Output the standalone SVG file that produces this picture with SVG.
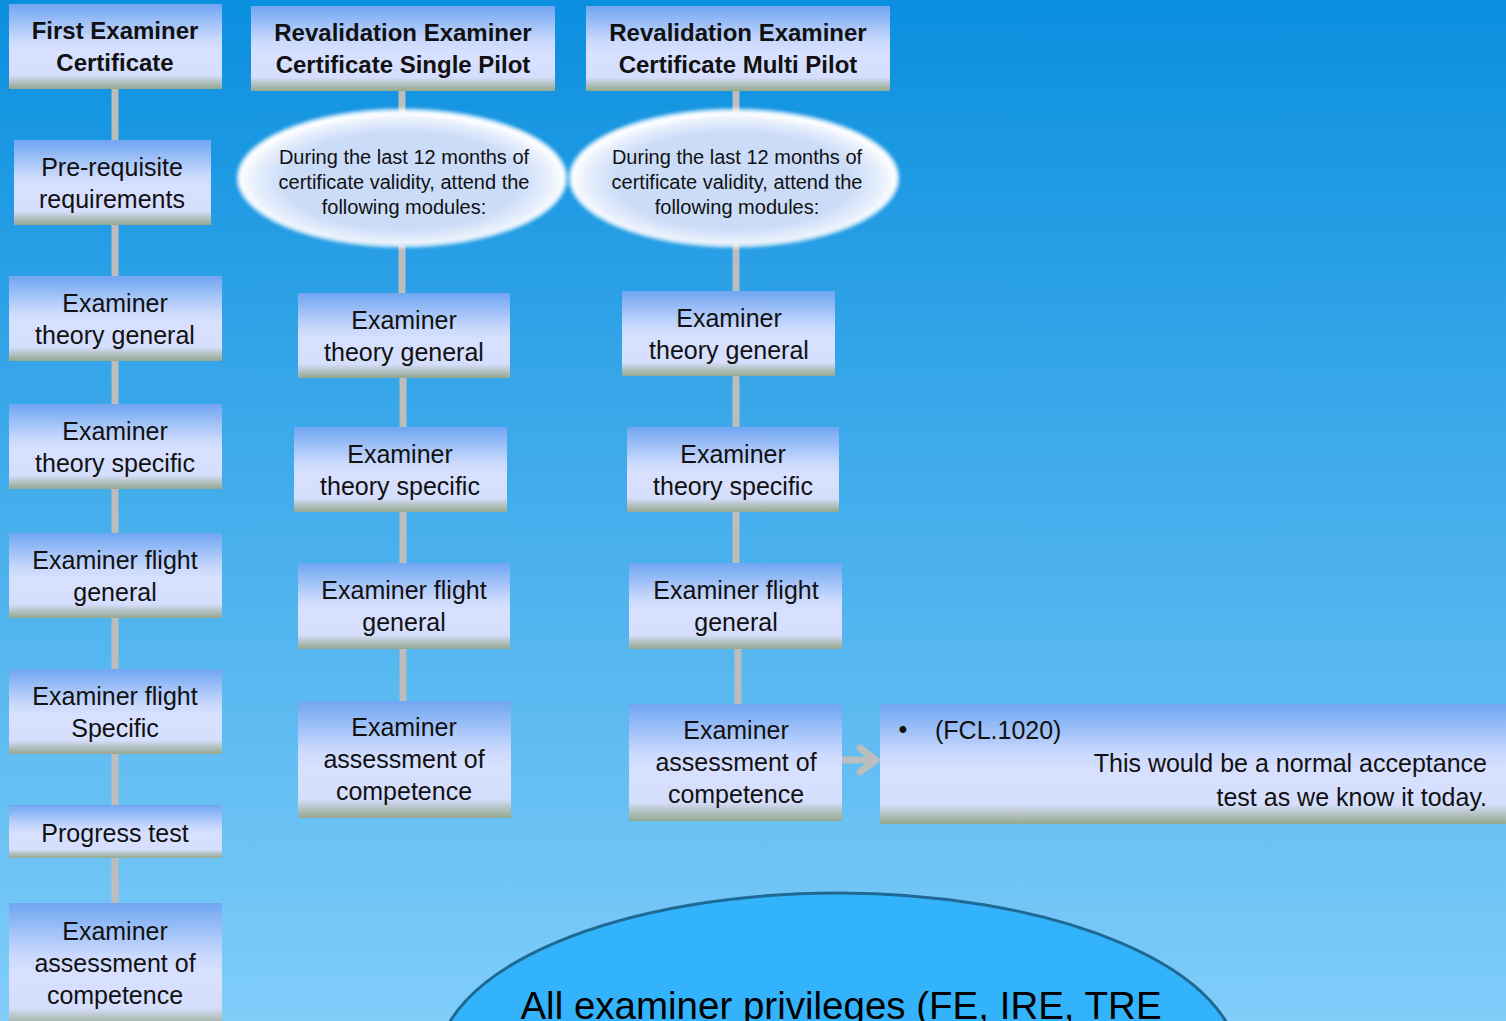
<svg xmlns="http://www.w3.org/2000/svg" width="1506" height="1021" viewBox="0 0 1506 1021">
<defs>
  <linearGradient id="bg" x1="0" y1="0" x2="0" y2="1">
    <stop offset="0" stop-color="#0a8fdf"/>
    <stop offset="1" stop-color="#80cdf9"/>
  </linearGradient>
  <linearGradient id="box" x1="0" y1="0" x2="0" y2="1">
    <stop offset="0" stop-color="#70a6f2"/>
    <stop offset="0.42" stop-color="#cad9fd"/>
    <stop offset="0.55" stop-color="#d7e0ff"/>
    <stop offset="0.84" stop-color="#d5defc"/>
    <stop offset="0.9" stop-color="#bcc8cf"/>
    <stop offset="1" stop-color="#95a78f"/>
  </linearGradient>
  <radialGradient id="ell" cx="0.5" cy="0.52" r="0.5">
    <stop offset="0" stop-color="#c9dbf8"/>
    <stop offset="0.72" stop-color="#cbdcf8"/>
    <stop offset="0.9" stop-color="#e6eefc"/>
    <stop offset="1" stop-color="#ffffff"/>
  </radialGradient>
  <filter id="soft" x="-10%" y="-20%" width="120%" height="140%">
    <feGaussianBlur stdDeviation="1.6"/>
  </filter>
  <style>
    .bx { fill: url(#box); }
    .t { font-family: "Liberation Sans", Arial, sans-serif; font-size: 25px; fill: #111; text-anchor: middle; }
    .h { font-family: "Liberation Sans", Arial, sans-serif; font-size: 24px; font-weight: bold; fill: #111; text-anchor: middle; }
    .e { font-family: "Liberation Sans", Arial, sans-serif; font-size: 20px; fill: #111; text-anchor: middle; }
    .conn { stroke: #bdbdbd; stroke-width: 7; fill: none; }
  </style>
</defs>
<rect x="0" y="0" width="1506" height="1021" fill="url(#bg)"/>

<g id="connectors">
  <line class="conn" x1="115" y1="88" x2="115" y2="905"/>
  <line class="conn" x1="402" y1="91" x2="402" y2="112"/>
  <line class="conn" x1="402" y1="245" x2="402" y2="295"/>
  <line class="conn" x1="403" y1="377" x2="403" y2="703"/>
  <line class="conn" x1="736" y1="91" x2="736" y2="112"/>
  <line class="conn" x1="736" y1="245" x2="736" y2="293"/>
  <line class="conn" x1="736" y1="375" x2="736" y2="429"/>
  <line class="conn" x1="736" y1="511" x2="736" y2="565"/>
  <line class="conn" x1="738" y1="648" x2="738" y2="706"/>
  <path d="M843 760 H876 M860 748 L876 760 L860 772" stroke="#bdbdbd" stroke-width="7" fill="none" stroke-linecap="round" stroke-linejoin="round"/>
</g>

<!-- Column 1 -->
<g id="first-examiner">
  <rect class="bx" x="9" y="4" width="213" height="85"/>
  <text class="h" x="115" y="39">First Examiner</text>
  <text class="h" x="115" y="71">Certificate</text>
</g>
<g id="pre-requisite">
  <rect class="bx" x="14" y="140" width="197" height="85"/>
  <text class="t" x="112" y="176">Pre-requisite</text>
  <text class="t" x="112" y="208">requirements</text>
</g>
<g id="c1-theory-general">
  <rect class="bx" x="9" y="276" width="213" height="85"/>
  <text class="t" x="115" y="312">Examiner</text>
  <text class="t" x="115" y="344">theory general</text>
</g>
<g id="c1-theory-specific">
  <rect class="bx" x="9" y="404" width="213" height="85"/>
  <text class="t" x="115" y="440">Examiner</text>
  <text class="t" x="115" y="472">theory specific</text>
</g>
<g id="c1-flight-general">
  <rect class="bx" x="9" y="533" width="213" height="85"/>
  <text class="t" x="115" y="569">Examiner flight</text>
  <text class="t" x="115" y="601">general</text>
</g>
<g id="c1-flight-specific">
  <rect class="bx" x="9" y="669" width="213" height="85"/>
  <text class="t" x="115" y="705">Examiner flight</text>
  <text class="t" x="115" y="737">Specific</text>
</g>
<g id="progress-test">
  <rect class="bx" x="9" y="805" width="213" height="53"/>
  <text class="t" x="115" y="842">Progress test</text>
</g>
<g id="c1-assessment">
  <rect class="bx" x="9" y="903" width="213" height="125"/>
  <text class="t" x="115" y="940">Examiner</text>
  <text class="t" x="115" y="972">assessment of</text>
  <text class="t" x="115" y="1004">competence</text>
</g>

<!-- Column 2 -->
<g id="reval-single">
  <rect class="bx" x="251" y="6" width="304" height="85"/>
  <text class="h" x="403" y="41">Revalidation Examiner</text>
  <text class="h" x="403" y="73">Certificate Single Pilot</text>
</g>
<g id="c2-ellipse">
  <ellipse cx="402" cy="178" rx="166" ry="70" fill="#ffffff" opacity="0.55" filter="url(#soft)"/>
  <ellipse cx="402" cy="178" rx="163" ry="67" fill="url(#ell)" filter="url(#soft)"/>
  <text class="e" x="404" y="164">During the last 12 months of</text>
  <text class="e" x="404" y="189">certificate validity, attend the</text>
  <text class="e" x="404" y="214">following modules:</text>
</g>
<g id="c2-theory-general">
  <rect class="bx" x="298" y="293" width="212" height="85"/>
  <text class="t" x="404" y="329">Examiner</text>
  <text class="t" x="404" y="361">theory general</text>
</g>
<g id="c2-theory-specific">
  <rect class="bx" x="294" y="427" width="213" height="85"/>
  <text class="t" x="400" y="463">Examiner</text>
  <text class="t" x="400" y="495">theory specific</text>
</g>
<g id="c2-flight-general">
  <rect class="bx" x="298" y="563" width="212" height="86"/>
  <text class="t" x="404" y="599">Examiner flight</text>
  <text class="t" x="404" y="631">general</text>
</g>
<g id="c2-assessment">
  <rect class="bx" x="298" y="701" width="213" height="117"/>
  <text class="t" x="404" y="736">Examiner</text>
  <text class="t" x="404" y="768">assessment of</text>
  <text class="t" x="404" y="800">competence</text>
</g>

<!-- Column 3 -->
<g id="reval-multi">
  <rect class="bx" x="586" y="6" width="304" height="85"/>
  <text class="h" x="738" y="41">Revalidation Examiner</text>
  <text class="h" x="738" y="73">Certificate Multi Pilot</text>
</g>
<g id="c3-ellipse">
  <ellipse cx="734" cy="178" rx="166" ry="70" fill="#ffffff" opacity="0.55" filter="url(#soft)"/>
  <ellipse cx="734" cy="178" rx="163" ry="67" fill="url(#ell)" filter="url(#soft)"/>
  <text class="e" x="737" y="164">During the last 12 months of</text>
  <text class="e" x="737" y="189">certificate validity, attend the</text>
  <text class="e" x="737" y="214">following modules:</text>
</g>
<g id="c3-theory-general">
  <rect class="bx" x="622" y="291" width="213" height="85"/>
  <text class="t" x="729" y="327">Examiner</text>
  <text class="t" x="729" y="359">theory general</text>
</g>
<g id="c3-theory-specific">
  <rect class="bx" x="627" y="427" width="212" height="85"/>
  <text class="t" x="733" y="463">Examiner</text>
  <text class="t" x="733" y="495">theory specific</text>
</g>
<g id="c3-flight-general">
  <rect class="bx" x="629" y="563" width="213" height="86"/>
  <text class="t" x="736" y="599">Examiner flight</text>
  <text class="t" x="736" y="631">general</text>
</g>
<g id="c3-assessment">
  <rect class="bx" x="629" y="704" width="213" height="117"/>
  <text class="t" x="736" y="739">Examiner</text>
  <text class="t" x="736" y="771">assessment of</text>
  <text class="t" x="736" y="803">competence</text>
</g>

<g id="fcl-note">
  <rect class="bx" x="880" y="704" width="630" height="120"/>
  <text class="t" x="903" y="738" style="text-anchor:middle">•</text>
  <text class="t" x="935" y="739" style="text-anchor:start">(FCL.1020)</text>
  <text class="t" x="1487" y="772" style="text-anchor:end">This would be a normal acceptance</text>
  <text class="t" x="1487" y="806" style="text-anchor:end">test as we know it today.</text>
</g>

<g id="privileges">
  <ellipse cx="838" cy="1063" rx="400" ry="170" fill="#33b3fc" stroke="#1e6a95" stroke-width="3"/>
  <text x="841" y="1019" font-family="Liberation Sans, Arial, sans-serif" font-size="38.5" fill="#000" text-anchor="middle">All examiner privileges (FE, IRE, TRE</text>
</g>
</svg>
